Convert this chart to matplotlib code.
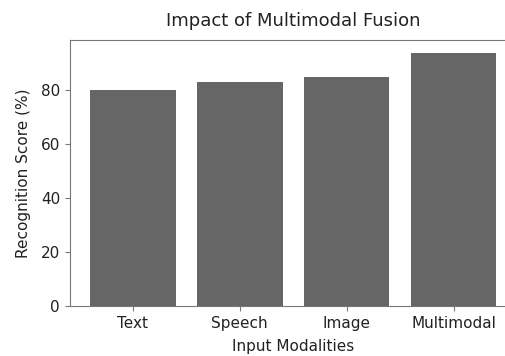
import matplotlib
matplotlib.use("Agg")
import matplotlib.pyplot as plt

categories = ["Text", "Speech", "Image", "Multimodal"]
scores = [80, 83, 85, 94]

fig = plt.figure(figsize=(5.06, 3.56), dpi=100)
ax = fig.add_axes([0.138, 0.1404, 0.883, 0.7472])
ax.bar(categories, scores, color="#666666", width=0.8)
ax.set_title("Impact of Multimodal Fusion", fontsize=13, color="#222222", pad=10)
ax.set_xlabel("Input Modalities", fontsize=11, labelpad=6, color="#222222")
ax.set_ylabel("Recognition Score (%)", fontsize=11, labelpad=7, color="#222222")
ax.tick_params(axis="both", labelsize=11, color="#777777", labelcolor="#222222")
for s in ax.spines.values():
    s.set_color("#777777")
ax.spines["right"].set_visible(False)
fig.savefig("out.png", dpi=100)
